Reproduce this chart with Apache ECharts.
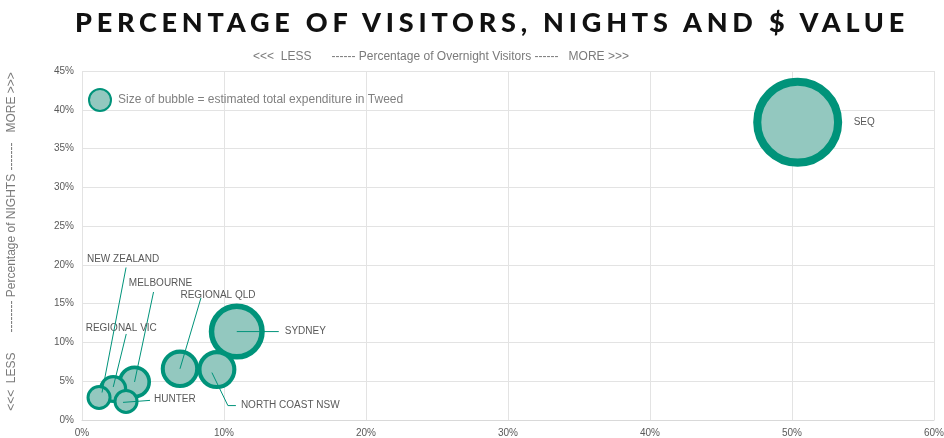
<!DOCTYPE html>
<html>
<head>
<meta charset="utf-8">
<script src="https://cdn.jsdelivr.net/npm/echarts@6/dist/echarts.min.js"></script>
<style>
  html, body { margin: 0; padding: 0; background: #fff; }
  #wrap { position: relative; width: 944px; height: 438px; }
  #main { width: 944px; height: 438px; }
  #title {
    position: absolute;
    left: 0;
    top: 5px;
    width: 984px;
    text-align: center;
    font-family: 'Lato', sans-serif;
    font-weight: 900;
    font-size: 27px;
    line-height: 34px;
    letter-spacing: 4.8px;
    color: #111;
    pointer-events: none;
  }
</style>
</head>
<body>
<div id="wrap">
  <div id="main"></div>
  <div id="title">PERCENTAGE OF VISITORS, NIGHTS AND $ VALUE</div>
</div>
<script>
// source markets, drawn in this order (later ones sit on top)
var regions = ['SEQ', 'SYDNEY', 'NORTH COAST NSW', 'REGIONAL QLD', 'MELBOURNE', 'REGIONAL VIC', 'NEW ZEALAND', 'HUNTER']
var visitorsPct = [50.4, 10.9, 9.5, 6.9, 3.7, 2.2, 1.2, 3.1]
var nightsPct = [38.4, 11.4, 6.5, 6.6, 4.9, 4.0, 2.9, 2.4]
// estimated total expenditure (index, SEQ = 100)
var spend = [100, 39.6, 19.2, 18.7, 13.7, 9.9, 7.9, 7.9]

var xTicks = [0, 10, 20, 30, 40, 50, 60]
var yTicks = [0, 5, 10, 15, 20, 25, 30, 35, 40, 45]

var fillColor = '#93c8bf'
var ringColor = '#00937a'
var legendText = 'Size of bubble = estimated total expenditure in Tweed'

// label placement relative to bubble centre: leader line points + text anchor
var labelLayout = {
  'SEQ': { line: [], text: [56, 0], align: 'left' },
  'SYDNEY': { line: [[0, 0], [42, 0]], text: [48, 0], align: 'left' },
  'NORTH COAST NSW': { line: [[-5, 3], [11, 36], [19, 36]], text: [24, 36], align: 'left' },
  'REGIONAL QLD': { line: [[0, 0], [21, -71]], text: [38, -74], align: 'center' },
  'MELBOURNE': { line: [[0, 0], [19, -90]], text: [26, -99], align: 'center' },
  'REGIONAL VIC': { line: [[0, -2], [13, -55]], text: [8, -61], align: 'center' },
  'NEW ZEALAND': { line: [[3, -5], [27, -130]], text: [24, -138], align: 'center' },
  'HUNTER': { line: [[-3, 1], [24, -1]], text: [28, -2], align: 'left' }
}

function outerSize(v) {
  return 89 * Math.sqrt(v / 100)
}

var bubbleData = regions.map(function (name, i) {
  var d = outerSize(spend[i])
  var bw = 1 + d * 0.08
  return {
    name: name,
    value: [visitorsPct[i], nightsPct[i], spend[i]],
    symbolSize: d - bw,
    itemStyle: { borderWidth: bw }
  }
})

var chart = echarts.init(document.getElementById('main'))

var option = {
  animation: false,
  backgroundColor: '#fff',
  title: [
    {
      text: '<<<  LESS      ------ Percentage of Overnight Visitors ------   MORE >>>',
      left: 436,
      top: 46,
      textAlign: 'center',
      textStyle: {
        fontFamily: 'Liberation Sans',
        fontWeight: 'normal',
        fontSize: 12,
        color: '#7a7a7a'
      }
    }
  ],
  legend: {
    left: 88,
    top: 88,
    padding: 0,
    itemWidth: 22,
    itemHeight: 22,
    icon: 'circle',
    data: [legendText],
    textStyle: {
      fontFamily: 'Liberation Sans',
      fontSize: 12,
      color: '#808080',
      padding: [0, 0, 0, 2]
    }
  },
  grid: {
    left: 82,
    right: 10,
    top: 71,
    bottom: 18,
    outerBoundsMode: 'none',
    containLabel: false
  },
  xAxis: {
    type: 'value',
    min: xTicks[0],
    max: xTicks[xTicks.length - 1],
    interval: 10,
    axisLine: { show: true, lineStyle: { color: '#d9d9d9' } },
    axisTick: { show: false },
    splitLine: { show: true, lineStyle: { color: '#e3e3e3' } },
    axisLabel: {
      formatter: '{value}%',
      fontFamily: 'Liberation Sans',
      fontSize: 10,
      color: '#595959',
      margin: 8
    }
  },
  yAxis: {
    type: 'value',
    min: yTicks[0],
    max: yTicks[yTicks.length - 1],
    interval: 5,
    name: '<<<  LESS      -------- Percentage of NIGHTS -------   MORE >>>',
    nameLocation: 'middle',
    nameGap: 64,
    nameTextStyle: {
      fontFamily: 'Liberation Sans',
      fontSize: 12,
      color: '#7a7a7a',
      padding: [0, 0, 0, 8]
    },
    axisLine: { show: false },
    axisTick: { show: false },
    splitLine: { show: true, lineStyle: { color: '#e3e3e3' } },
    axisLabel: {
      formatter: '{value}%',
      fontFamily: 'Liberation Sans',
      fontSize: 10,
      color: '#595959',
      margin: 8
    }
  },
  series: [
    {
      name: legendText,
      type: 'scatter',
      itemStyle: {
        color: fillColor,
        borderColor: ringColor,
        borderWidth: 3,
        opacity: 1
      },
      emphasis: { disabled: true },
      data: bubbleData
    },
    {
      name: 'labels',
      type: 'custom',
      silent: true,
      z: 5,
      data: regions.map(function (name, i) {
        return [visitorsPct[i], nightsPct[i]]
      }),
      renderItem: function (params, api) {
        var c = api.coord([api.value(0), api.value(1)])
        var lay = labelLayout[regions[params.dataIndex]]
        var children = []
        if (lay.line.length) {
          children.push({
            type: 'polyline',
            shape: {
              points: lay.line.map(function (p) {
                return [c[0] + p[0], c[1] + p[1]]
              })
            },
            style: { stroke: ringColor, lineWidth: 1, fill: null }
          })
        }
        children.push({
          type: 'text',
          x: c[0] + lay.text[0],
          y: c[1] + lay.text[1],
          style: {
            text: regions[params.dataIndex],
            align: lay.align,
            verticalAlign: 'middle',
            fontFamily: 'Liberation Sans',
            fontSize: 10,
            fill: '#595959'
          }
        })
        return { type: 'group', children: children }
      }
    }
  ]
}

chart.setOption(option)
</script>
</body>
</html>
